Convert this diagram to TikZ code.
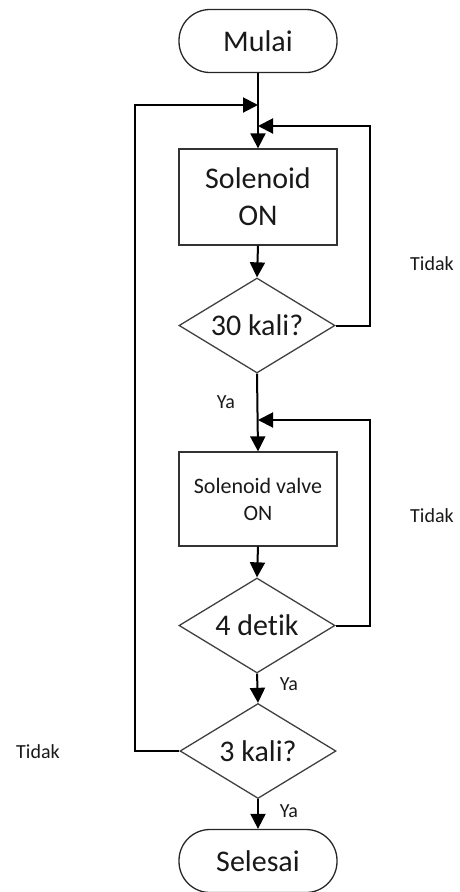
\documentclass[tikz,border=0pt]{standalone}
\usepackage{fontspec}
\setmainfont{Carlito}[Ligatures={NoCommon}]
\usetikzlibrary{arrows.meta,shapes.geometric}
\begin{document}
\begin{tikzpicture}[x=1pt,y=-1pt,
  big/.style={font=\fontsize{30}{37}\selectfont},
  small/.style={font=\fontsize{22}{27}\selectfont},
  lbl/.style={font=\fontsize{20}{24}\selectfont, text=black!90},
  term/.style={draw=black!85, line width=1.3pt, rounded corners=31pt,
    minimum width=158pt, minimum height=63pt, inner sep=0pt, big, text=black!90},
  proc/.style={draw=black!80, line width=1.3pt, minimum width=158pt,
    inner sep=0pt, align=center, text=black!90},
  dec/.style={diamond, aspect=1.64, draw=black!75, line width=1.3pt,
    minimum width=156pt, minimum height=95pt, inner sep=0pt, big, text=black!90},
  flow/.style={draw=black, line width=2pt, -{Triangle[length=15pt,width=15pt]}},
  wire/.style={draw=black, line width=2pt}
]
\useasboundingbox (0,0) rectangle (460,892);

% process chain
\node[term] (mulai) at (258,41) {Mulai};
\node[proc, big, minimum height=96pt] (sol) at (258,197) {Solenoid\\ON};
\node[dec] (d1) at (257,325.5) {30 kali?};
\node[proc, small, minimum height=94pt] (valve) at (258,499) {Solenoid valve\\ON};
\node[dec] (d2) at (257,625.5) {4 detik};
\node[dec] (d3) at (258,751) {3 kali?};
\node[term] (selesai) at (258,861) {Selesai};

% junctions where the loops rejoin the main line
\coordinate (j1) at (258,105);
\coordinate (j2) at (258,126);
\coordinate (j3) at (258,420);

% main line
\draw[flow] (mulai.south) -- (sol.north);
\draw[flow] (sol.south) -- (d1.north);
\draw[flow] (d1.south) -- (valve.north);
\draw[flow] (valve.south) -- (d2.north);
\draw[flow] (d2.south) -- (d3.north);
\draw[flow] (d3.south) -- (selesai.north);

% loops back
\draw[flow] (d1.east) -- ++(34,0) |- (j2);
\draw[flow] (d2.east) -- ++(34,0) |- (j3);
\draw[flow] (d3.west) -- ++(-44,0) |- (j1);

% labels
\node[lbl] (t1) at (432,264) {Tidak};
\node[lbl] (t2) at (432,516) {Tidak};
\node[lbl] (t3) at (38,752) {Tidak};
\node[lbl] (y1) at (226,402) {Ya};
\node[lbl] (y2) at (289,684) {Ya};
\node[lbl] (y3) at (289,811) {Ya};
\end{tikzpicture}
\end{document}
